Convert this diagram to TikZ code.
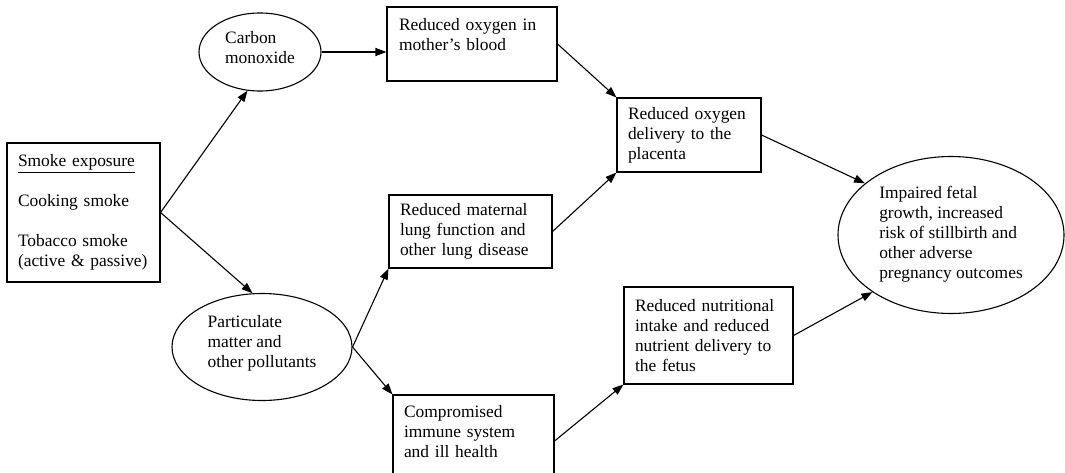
\documentclass[tikz,border=0pt]{standalone}
\usepackage{fontspec}
\setmainfont{Liberation Serif}
\usetikzlibrary{shapes.geometric,arrows.meta,calc}
\begin{document}
\begin{tikzpicture}[x=1pt,y=-1pt,
  every node/.style={font=\fontsize{17.4}{20}\selectfont},
  boxnode/.style={draw, line width=1.1pt, rectangle, align=left, inner ysep=0pt, inner xsep=11pt},
  ellnode/.style={draw, line width=1.1pt, ellipse, inner sep=0pt},
  txt/.style={align=left, inner sep=0pt},
  conn/.style={line width=1.1pt, -{Triangle[length=11pt,width=8pt]}}]
\useasboundingbox (0,0) rectangle (1065,472);
% boxes
\node[boxnode, minimum width=153pt, minimum height=139pt, text width=131pt] (smoke) at (83.5,212.5)
  {\underline{Smoke exposure}\\[20pt]Cooking smoke\\[20pt]Tobacco smoke\\(active \& passive)};
\node[boxnode, minimum width=170pt, minimum height=74pt, text width=146pt, inner xsep=12pt] (blood) at (472,44)
  {Reduced oxygen in\\mother’s blood\\\mbox{}};
\node[boxnode, minimum width=144pt, minimum height=74pt, text width=122pt] (plac) at (689,135)
  {Reduced oxygen\\delivery to the\\placenta};
\node[boxnode, minimum width=163pt, minimum height=73pt, text width=141pt] (lung) at (470.5,231.5)
  {Reduced maternal\\lung function and\\other lung disease};
\node[boxnode, minimum width=161pt, minimum height=92pt, text width=139pt] (imm) at (473.5,441)
  {Compromised\\immune system\\and ill health\\\mbox{}};
\node[boxnode, minimum width=169pt, minimum height=97pt, text width=147pt] (nutr) at (708.5,335.5)
  {Reduced nutritional\\intake and reduced\\nutrient delivery to\\the fetus};
% ellipses
\node[ellnode, minimum width=122pt, minimum height=78pt] (co) at (260,52) {};
\node[txt] (cotxt) at ([yshift=4pt]co.center) {Carbon\\monoxide};
\node[ellnode, minimum width=180pt, minimum height=107pt] (pm) at (262,347) {};
\node[txt] (pmtxt) at ([yshift=4pt]pm.center) {Particulate\\matter and\\other pollutants};
\node[ellnode, minimum width=226pt, minimum height=157pt] (out) at (951,235) {};
\node[txt] (outtxt) at ([yshift=1pt]out.center) {Impaired fetal\\growth, increased\\risk of stillbirth and\\other adverse\\pregnancy outcomes};
% connectors
\draw[conn] (smoke.east) -- (co.-108);
\draw[conn] (smoke.east) -- (pm.100);
\draw[conn] (co.east) -- (blood.west |- co.east);
\draw[conn] (blood.east) -- (plac.north west);
\draw[conn] (pm.east) -- (lung.south west);
\draw[conn] (pm.east) -- (imm.north west);
\draw[conn] (lung.east) -- (plac.south west);
\draw[conn] (imm.east) -- (nutr.south west);
\draw[conn] (plac.east) -- (out.149);
\draw[conn] (nutr.east) -- (out.216);
\end{tikzpicture}
\end{document}
